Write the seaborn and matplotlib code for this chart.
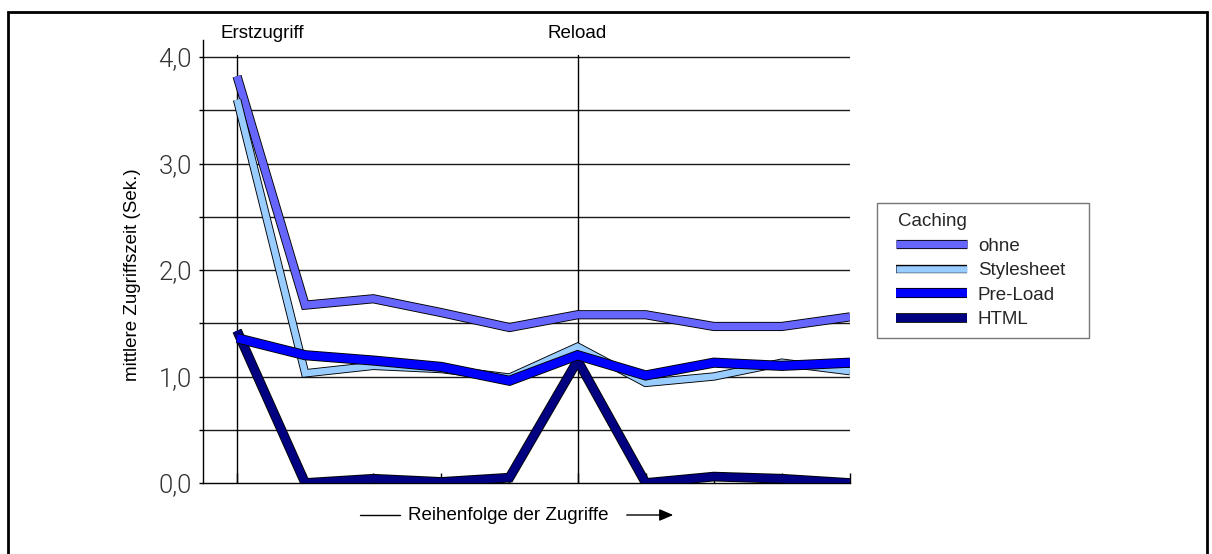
import matplotlib
matplotlib.use("Agg")
import matplotlib.pyplot as plt
import matplotlib.patheffects as pe
from matplotlib.patches import Rectangle, FancyArrowPatch
from matplotlib.lines import Line2D
from matplotlib.offsetbox import HPacker, DrawingArea
from matplotlib.ticker import FixedLocator, FixedFormatter, NullFormatter
import matplotlib.transforms as mtransforms
import numpy as np
import pandas as pd
import seaborn as sns

# Access sequence (10 requests: first access, then reload at position 5)
zugriffe = list(range(10))

# Mean access time in seconds per caching strategy
ohne = [3.82, 1.67, 1.73, 1.60, 1.46, 1.58, 1.58, 1.47, 1.47, 1.56]
stylesheet = [3.60, 1.03, 1.10, 1.07, 0.99, 1.28, 0.94, 1.00, 1.13, 1.05]
pre_load = [1.36, 1.20, 1.15, 1.09, 0.96, 1.20, 1.01, 1.13, 1.10, 1.13]
html = [1.43, 0.00, 0.04, 0.01, 0.05, 1.15, 0.00, 0.06, 0.04, 0.00]

serien = ["ohne", "Stylesheet", "Pre-Load", "HTML"]
farben = {"ohne": "#6666FF", "Stylesheet": "#99CCFF",
          "Pre-Load": "#0000FF", "HTML": "#000080"}
breiten = {"ohne": 5.3, "Stylesheet": 4.7, "Pre-Load": 6.0, "HTML": 5.7}
zeichen_reihenfolge = ["ohne", "Stylesheet", "HTML", "Pre-Load"]

y_ticks_major = [0, 1, 2, 3, 4]
y_ticklabels = ["0,0", "1,0", "2,0", "3,0", "4,0"]
y_ticks_minor = [0.5, 1.5, 2.5, 3.5]

werte = {"ohne": ohne, "Stylesheet": stylesheet, "Pre-Load": pre_load, "HTML": html}
df = pd.DataFrame(
    [(s, x, v) for s in serien for x, v in zip(zugriffe, werte[s])],
    columns=["Caching", "Zugriff", "Zeit"],
)

sns.set_theme(style="white")
plt.rcParams["font.family"] = ["Liberation Sans", "DejaVu Sans"]

FS = 13.5
W, H = 1212, 554
fig = plt.figure(figsize=(W / 100, H / 100), dpi=100)
ax = fig.add_axes([203 / W, 1 - 483 / H, (850 - 203) / W, (483 - 40) / H])

handles = {}
for s in zeichen_reihenfolge:
    sns.lineplot(data=df[df["Caching"] == s], x="Zugriff", y="Zeit",
                 color=farben[s], linewidth=breiten[s], sort=False,
                 errorbar=None, estimator=None, ax=ax, legend=False)
    ln = ax.lines[-1]
    ln.set_solid_joinstyle("miter")
    ln.set_solid_capstyle("butt")
    ln.set_path_effects([pe.Stroke(linewidth=breiten[s] + 1.3, foreground="black"),
                         pe.Normal()])
    ln.set_zorder(5)
    handles[s] = ln

ax.set_xlim(-0.5, 9)
ax.set_ylim(0, 4.16)

# horizontal grid every 0.5 up to 4.0
for yv in y_ticks_major[1:] + y_ticks_minor:
    ax.plot([-0.5, 9], [yv, yv], color="#1a1a1a", lw=1.0, zorder=1)
# vertical markers for first access and reload
for xv in (0, 5):
    ax.plot([xv, xv], [0, 4.02], color="black", lw=1.0, zorder=1)

for sp in ("top", "right"):
    ax.spines[sp].set_visible(False)
for sp in ("left", "bottom"):
    ax.spines[sp].set_color("black")
    ax.spines[sp].set_linewidth(1.0)

ax.yaxis.set_major_locator(FixedLocator(y_ticks_major))
ax.yaxis.set_major_formatter(FixedFormatter(y_ticklabels))
ax.yaxis.set_minor_locator(FixedLocator(y_ticks_minor))
ax.yaxis.set_minor_formatter(NullFormatter())
ax.tick_params(axis="y", which="both", direction="out", length=3, width=1,
               color="black", left=True, pad=5)
for lbl in ax.get_yticklabels():
    lbl.set_fontfamily(["Roboto", "DejaVu Sans"])
    lbl.set_fontweight(300)
    lbl.set_fontsize(18.5)
    lbl.set_color("#333333")

ax.xaxis.set_major_locator(FixedLocator(zugriffe))
ax.tick_params(axis="x", which="both", direction="in", length=7.5, width=1,
               color="black", bottom=True, labelbottom=False)
ax.set_xlabel("")
ax.set_ylabel("mittlere Zugriffszeit (Sek.)", fontsize=FS, color="black")
ax.yaxis.set_label_coords(-0.096, 0.47)

# section labels above the plot
trans = mtransforms.blended_transform_factory(ax.transData, fig.transFigure)
ax.text(-0.25, 1 - 33 / H, "Erstzugriff", transform=trans, ha="left", va="center",
        fontsize=FS, color="black")
ax.text(5, 1 - 33 / H, "Reload", transform=trans, ha="center", va="center",
        fontsize=FS, color="black")

# x-axis direction hint
yb = 1 - 515 / H
fig.add_artist(Line2D([360 / W, 400 / W], [yb, yb], color="black", lw=1.0))
fig.text(508 / W, yb, "Reihenfolge der Zugriffe", ha="center", va="center",
         fontsize=FS, color="black")
fig.add_artist(FancyArrowPatch((624 / W, yb), (676 / W, yb), transform=fig.transFigure,
                               arrowstyle="-|>,head_length=0.7,head_width=0.3",
                               color="black", lw=1.0, mutation_scale=12))

leg = fig.legend([handles[s] for s in serien], serien, title="Caching",
                 loc="upper left", bbox_to_anchor=(877 / W, 1 - 203 / H),
                 fontsize=FS, title_fontsize=FS, frameon=True, fancybox=False,
                 handlelength=3.75, handletextpad=0.6, labelspacing=0.39,
                 borderpad=0.55, borderaxespad=0)
leg.get_frame().set_edgecolor("#555555")
leg.get_frame().set_linewidth(1.0)
leg._legend_box.align = "left"
# extra horizontal inset on the left and right of the legend contents
title_box, entry_box = leg._legend_box.get_children()
leg._legend_box._children = [
    HPacker(pad=0, sep=0, children=[DrawingArea(7.5, 1), title_box]),
    HPacker(pad=0, sep=0, children=[DrawingArea(6.5, 1), entry_box, DrawingArea(10, 1)]),
]

# outer frame
fig.add_artist(Rectangle((8 / W, -0.05), (1207 - 8) / W, 1.05 - 12 / H,
                         transform=fig.transFigure, fill=False,
                         edgecolor="black", lw=2.0))

fig.savefig("out.png", dpi=100)
